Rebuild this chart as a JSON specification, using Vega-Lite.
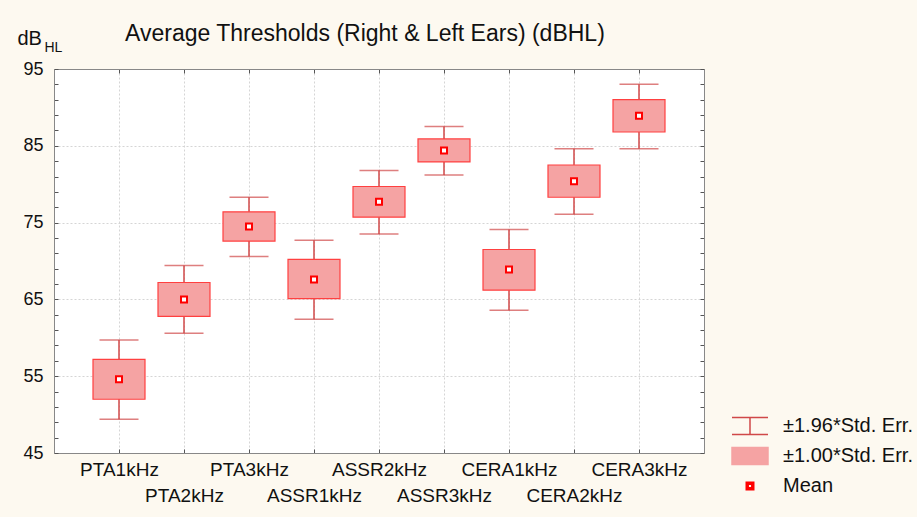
{
  "$schema": "https://vega.github.io/schema/vega-lite/v6.json",
  "width": 650,
  "height": 384,
  "autosize": "none",
  "padding": {"left": 54, "top": 69, "right": 213, "bottom": 64},
  "background": "#FDF9F0",
  "config": {
    "font": "Liberation Sans",
    "view": {"stroke": "#888888", "fill": "white"}
  },
  "title": {
    "text": "Average Thresholds (Right & Left Ears) (dBHL)",
    "anchor": "start",
    "frame": "group",
    "dx": 71,
    "offset": 0,
    "dy": 36,
    "baseline": "alphabetic",
    "fontSize": 23,
    "fontWeight": "normal",
    "color": "#111111"
  },
  "data": {
    "values": [
      {"cond": "PTA1kHz", "mean": 54.6, "lo": 52.0, "hi": 57.2, "wlo": 49.4, "whi": 59.7},
      {"cond": "PTA2kHz", "mean": 65.0, "lo": 62.8, "hi": 67.2, "wlo": 60.6, "whi": 69.4},
      {"cond": "PTA3kHz", "mean": 74.5, "lo": 72.6, "hi": 76.4, "wlo": 70.6, "whi": 78.3},
      {"cond": "ASSR1kHz", "mean": 67.6, "lo": 65.1, "hi": 70.2, "wlo": 62.4, "whi": 72.7},
      {"cond": "ASSR2kHz", "mean": 77.7, "lo": 75.7, "hi": 79.7, "wlo": 73.5, "whi": 81.8},
      {"cond": "ASSR3kHz", "mean": 84.4, "lo": 82.9, "hi": 85.9, "wlo": 81.2, "whi": 87.5},
      {"cond": "CERA1kHz", "mean": 68.9, "lo": 66.2, "hi": 71.5, "wlo": 63.6, "whi": 74.1},
      {"cond": "CERA2kHz", "mean": 80.4, "lo": 78.3, "hi": 82.5, "wlo": 76.1, "whi": 84.6},
      {"cond": "CERA3kHz", "mean": 88.9, "lo": 86.8, "hi": 91.0, "wlo": 84.6, "whi": 93.0}
    ]
  },
  "layer": [
    {
      "mark": {"type": "rule", "strokeWidth": 1.5},
      "encoding": {
        "x": {
          "field": "cond", "type": "nominal", "sort": null,
          "scale": {"type": "point", "padding": 1},
          "axis": {
            "orient": "bottom", "title": null, "labelAngle": 0,
            "labelFontSize": 19, "labelColor": "#111111",
            "labelOverlap": false, "labelFlush": false, "labelBound": false,
            "labelPadding": {"condition": {"test": "indexof(['PTA2kHz','ASSR1kHz','ASSR3kHz','CERA2kHz'], datum.value) >= 0", "value": 37}, "value": 11},
            "tickSize": -4, "tickColor": "#555555",
            "grid": true, "gridDash": [2, 2], "gridColor": "#D5D5D5",
            "domainColor": "#888888"
          }
        },
        "y": {
          "field": "wlo", "type": "quantitative",
          "scale": {"domain": [45, 95], "nice": false, "zero": false},
          "axis": {
            "orient": "left",
            "values": [45,47,49,51,53,55,57,59,61,63,65,67,69,71,73,75,77,79,81,83,85,87,89,91,93,95],
            "labelExpr": "(datum.value - 45) % 10 === 0 ? datum.label : ''",
            "labelFontSize": 18, "labelColor": "#111111", "labelPadding": 15,
            "labelOverlap": false, "labelFlush": false, "labelBound": false,
            "tickSize": -4, "tickColor": "#555555",
            "grid": true, "gridDash": [2, 2], "gridColor": "#D5D5D5",
            "gridOpacity": {"condition": {"test": "(datum.value - 45) % 10 === 0", "value": 1}, "value": 0},
            "domainColor": "#888888",
            "title": "dB", "titleAngle": 0, "titleX": -37, "titleY": -25,
            "titleAlign": "left", "titleBaseline": "alphabetic",
            "titleFontSize": 20, "titleFontWeight": "normal", "titleColor": "#111111"
          }
        },
        "y2": {"field": "whi"},
        "color": {
          "datum": "±1.96*Std. Err.",
          "scale": {
            "domain": ["±1.96*Std. Err.", "±1.00*Std. Err.", "Mean"],
            "range": ["#D04848", "#F5A3A3", "#FF0000"]
          },
          "legend": {
            "title": null,
            "orient": "none",
            "legendX": 680,
            "legendY": 341,
            "padding": 0,
            "symbolSize": 900,
            "rowPadding": 2,
            "labelOffset": 17,
            "labelFontSize": 20,
            "labelColor": "#111111",
            "labelLimit": 300,
            "encode": {
              "symbols": {
                "update": {
                  "shape": {"signal": "datum.value === 'Mean' ? 'M-0.25,-0.25L0.25,-0.25L0.25,0.25L-0.25,0.25Z M-0.12,-0.12L-0.12,0.12L0.12,0.12L0.12,-0.12Z' : (datum.value === '±1.00*Std. Err.' ? 'M-1.2,-0.57L1.2,-0.57L1.2,0.57L-1.2,0.57Z' : 'M-1.2,-0.57L1.2,-0.57M0,-0.57L0,0.57M-1.2,0.57L1.2,0.57')"},
                  "size": {"value": 900},
                  "fill": {"signal": "datum.value === 'Mean' ? '#FF0000' : (datum.value === '±1.00*Std. Err.' ? '#F5A3A3' : 'transparent')"},
                  "stroke": {"signal": "datum.value === 'Mean' ? 'transparent' : (datum.value === '±1.00*Std. Err.' ? '#FF4040' : '#D04848')"},
                  "strokeWidth": {"value": 1.5},
                  "opacity": {"value": 1}
                }
              }
            }
          }
        }
      }
    },
    {
      "mark": {"type": "tick", "size": 39, "thickness": 1.5},
      "encoding": {
        "x": {
          "field": "cond", "type": "nominal", "sort": null,
          "axis": {"orient": "top", "title": null, "labels": false, "tickSize": -4, "tickColor": "#555555", "grid": false, "domainColor": "#888888"}
        },
        "y": {
          "field": "wlo", "type": "quantitative",
          "axis": {
            "orient": "right",
            "values": [45,47,49,51,53,55,57,59,61,63,65,67,69,71,73,75,77,79,81,83,85,87,89,91,93,95],
            "labels": false, "tickSize": -4, "tickColor": "#555555", "grid": false, "domainColor": "#888888",
            "title": "HL", "titleAngle": 0, "titleX": -660, "titleY": -18,
            "titleAlign": "left", "titleBaseline": "alphabetic",
            "titleFontSize": 14, "titleFontWeight": "normal", "titleColor": "#111111"
          }
        },
        "color": {"datum": "±1.96*Std. Err."}
      }
    },
    {
      "mark": {"type": "tick", "size": 39, "thickness": 1.5},
      "encoding": {
        "x": {"field": "cond", "type": "nominal", "sort": null, "axis": null},
        "y": {"field": "whi", "type": "quantitative", "axis": null},
        "color": {"datum": "±1.96*Std. Err."}
      }
    },
    {
      "mark": {"type": "bar", "size": 52, "stroke": "#FF4040", "strokeWidth": 1.2},
      "encoding": {
        "x": {"field": "cond", "type": "nominal", "sort": null, "axis": null},
        "y": {"field": "lo", "type": "quantitative", "axis": null},
        "y2": {"field": "hi"},
        "color": {"datum": "±1.00*Std. Err."}
      }
    },
    {
      "mark": {"type": "point", "shape": "square", "filled": false, "fill": "#FFFFFF", "size": 36, "strokeWidth": 2, "opacity": 1},
      "encoding": {
        "x": {"field": "cond", "type": "nominal", "sort": null, "axis": null},
        "y": {"field": "mean", "type": "quantitative", "axis": null},
        "color": {"datum": "Mean"}
      }
    }
  ],
  "resolve": {"axis": {"x": "independent", "y": "independent"}}
}
